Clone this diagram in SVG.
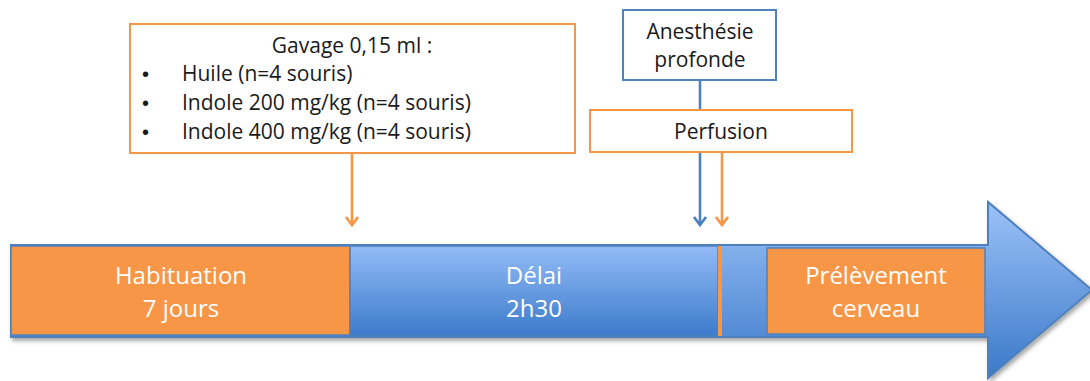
<svg xmlns="http://www.w3.org/2000/svg" width="1090" height="381" viewBox="0 0 1090 381">
<defs>
<linearGradient id="gArrow" x1="0" y1="0" x2="0" y2="1">
<stop offset="0" stop-color="#9cc2f8"/>
<stop offset="1" stop-color="#3b79c9"/>
</linearGradient>
<linearGradient id="gBody" x1="0" y1="0" x2="0" y2="1">
<stop offset="0" stop-color="#93bbf6"/>
<stop offset="1" stop-color="#3c7bcb"/>
</linearGradient>
<filter id="sh" x="-5%" y="-10%" width="110%" height="130%">
<feDropShadow dx="2" dy="3" stdDeviation="2" flood-color="#000" flood-opacity="0.35"/>
</filter>
<marker id="mO" markerWidth="14" markerHeight="16" refX="11" refY="8" orient="auto" markerUnits="userSpaceOnUse" viewBox="0 0 14 16">
<path d="M3,2 L11,8 L3,14" fill="none" stroke="#f79646" stroke-width="2.8"/>
</marker>
<marker id="mB" markerWidth="14" markerHeight="16" refX="11" refY="8" orient="auto" markerUnits="userSpaceOnUse" viewBox="0 0 14 16">
<path d="M3,2 L11,8 L3,14" fill="none" stroke="#4f81bd" stroke-width="2.8"/>
</marker>
</defs>
<style>
.t{font-family:"Open Sans","Noto Sans","Liberation Sans",sans-serif;}
.w{fill:#ffffff;font-size:24px;text-anchor:middle;}
.d{fill:#1a1a1a;font-size:21px;}
.c{text-anchor:middle;}
.bu{font-family:"Liberation Sans",sans-serif;fill:#1a1a1a;font-size:20px;}
.bo{fill:#ffffff;stroke:#f79646;stroke-width:2;}
.bb{fill:#ffffff;stroke:#4f81bd;stroke-width:2;}
.or{fill:#f79646;stroke:#4f81bd;stroke-width:1.5;}
</style>
<rect width="1090" height="381" fill="#ffffff"/>

<g id="timeline">
<path d="M11,245 L988,245 L988,202 L1092,290 L988,378 L988,337 L11,337 Z" fill="url(#gArrow)" stroke="#4f81bd" stroke-width="2" filter="url(#sh)"/>
</g>
<g id="habituation">
<rect x="11" y="246" width="339" height="89" class="or"/>
<text class="t w" x="181" y="284">Habituation</text>
<text class="t w" x="181" y="317">7 jours</text>
</g>
<g id="delai">
<rect x="350" y="246" width="368" height="90" fill="url(#gBody)" stroke="#4f81bd" stroke-width="1.5"/>
<text class="t w" x="534" y="284">Délai</text>
<text class="t w" x="534" y="317">2h30</text>
</g>
<g id="perfusion-mark">
<rect x="718" y="246" width="4" height="90" fill="#f79646"/>
</g>
<g id="prelevement">
<rect x="767" y="248" width="218" height="86" class="or"/>
<text class="t w" x="876" y="284">Prélèvement</text>
<text class="t w" x="876" y="317">cerveau</text>
</g>

<g id="connectors">
<line x1="352" y1="153" x2="352" y2="225" stroke="#f79646" stroke-width="2.6" marker-end="url(#mO)"/>
<line x1="700" y1="81" x2="700" y2="225" stroke="#4f81bd" stroke-width="2.6" marker-end="url(#mB)"/>
<line x1="722" y1="152" x2="722" y2="225" stroke="#f79646" stroke-width="2.6" marker-end="url(#mO)"/>
</g>

<g id="gavage">
<rect x="130" y="24" width="445" height="129" class="bo"/>
<text class="t d c" x="352" y="53">Gavage 0,15 ml :</text>
<text class="bu" x="142" y="81">•</text>
<text class="t d" x="182" y="81">Huile (n=4 souris)</text>
<text class="bu" x="142" y="110">•</text>
<text class="t d" x="182" y="110">Indole 200 mg/kg (n=4 souris)</text>
<text class="bu" x="142" y="139">•</text>
<text class="t d" x="182" y="139">Indole 400 mg/kg (n=4 souris)</text>
</g>
<g id="anesthesie">
<rect x="623" y="10" width="153" height="70" class="bb"/>
<text class="t d c" x="700" y="39">Anesthésie</text>
<text class="t d c" x="700" y="67">profonde</text>
</g>
<g id="perfusion">
<rect x="590" y="110" width="262" height="42" class="bo"/>
<text class="t d c" x="721" y="139" font-size="20.5">Perfusion</text>
</g>
</svg>
